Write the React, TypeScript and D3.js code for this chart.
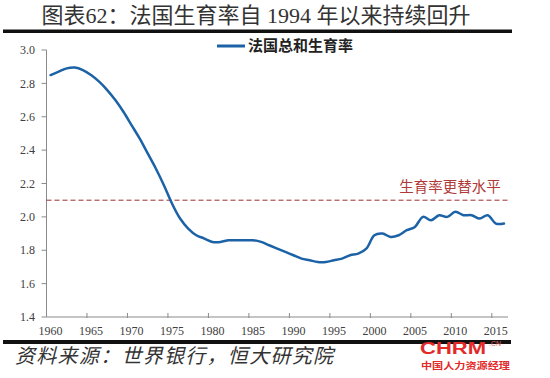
import React from "react";
import * as d3 from "d3";

const years: number[] = d3.range(1960, 2017);
const tfr: number[] = [
  2.85, 2.87, 2.89, 2.895, 2.88, 2.85, 2.81, 2.76, 2.7, 2.63,
  2.55, 2.47, 2.38, 2.29, 2.19, 2.08, 1.99, 1.93, 1.89, 1.87,
  1.85, 1.85, 1.86, 1.86, 1.86, 1.86, 1.85, 1.83, 1.81, 1.79,
  1.77, 1.75, 1.74, 1.73, 1.73, 1.74, 1.75, 1.77, 1.78, 1.81,
  1.89, 1.9, 1.88, 1.89, 1.92, 1.94, 2.0, 1.98, 2.01, 2.0,
  2.03, 2.01, 2.01, 1.99, 2.01, 1.96, 1.96,
];
const yTicks: number[] = [1.4, 1.6, 1.8, 2.0, 2.2, 2.4, 2.6, 2.8, 3.0];
const xLabelYears: number[] = [1960, 1965, 1970, 1975, 1980, 1985, 1990, 1995, 2000, 2005, 2010, 2015];
const replacementLevel = 2.1;
const title = "图表62：法国生育率自 1994 年以来持续回升";
const seriesName = "法国总和生育率";
const refLabel = "生育率更替水平";
const source = "资料来源：世界银行，恒大研究院";

const W = 550, H = 378;
const left = 46.5, right = 508, top = 50, bottom = 317;

export default function App() {
  const x = d3.scaleBand<number>().domain(years).range([left, right]).paddingInner(0).paddingOuter(0);
  const cx = (yr: number) => (x(yr) as number) + x.bandwidth() / 2;
  const y = d3.scaleLinear().domain([1.4, 3.0]).range([bottom, top]);
  const data = years.map((yr, i) => ({ yr, v: tfr[i] }));
  const line = d3.line<{ yr: number; v: number }>()
    .x(d => cx(d.yr))
    .y(d => y(d.v))
    .curve(d3.curveCatmullRom.alpha(0.5));
  const boundaryTicks = d3.range(5, years.length, 5).map(i => left + i * x.bandwidth());
  const serif = "'Liberation Serif', 'Times New Roman', 'Noto Sans CJK SC', serif";
  const cjk = "'Liberation Serif', 'Noto Sans CJK SC', sans-serif";
  return (
    <svg width={W} height={H} style={{ position: "absolute", left: 0, top: 0, background: "#fff" }}
      xmlns="http://www.w3.org/2000/svg">
      <rect x={0} y={0} width={W} height={H} fill="#fff" />
      <text x={256} y={22.5} textAnchor="middle" fontFamily={cjk} fontSize={22} fill="#333">{title}</text>
      <rect x={3} y={29.5} width={509} height={3.5} fill="#111" />

      {/* y axis */}
      <line x1={left} x2={left} y1={top} y2={bottom} stroke="#8a8a8a" strokeWidth={1} />
      {yTicks.map(t => (
        <g key={t}>
          <line x1={left - 5} x2={left} y1={y(t)} y2={y(t)} stroke="#8a8a8a" />
          <text x={35} y={y(t)} dy="0.35em" textAnchor="end" fontFamily={serif} fontSize={12} fill="#404040">{t.toFixed(1)}</text>
        </g>
      ))}
      {/* x axis */}
      <line x1={left} x2={right} y1={bottom} y2={bottom} stroke="#8a8a8a" strokeWidth={1} />
      {boundaryTicks.map((bx, i) => (
        <line key={i} x1={bx} x2={bx} y1={bottom - 4} y2={bottom + 1} stroke="#8a8a8a" />
      ))}
      {xLabelYears.map(yr => (
        <text key={yr} x={cx(yr)} y={bottom + 18} textAnchor="middle" fontFamily={serif} fontSize={12} fill="#404040">{yr}</text>
      ))}

      {/* replacement level */}
      <line x1={left} x2={510} y1={y(replacementLevel)} y2={y(replacementLevel)} stroke="#a0312f" strokeWidth={1} strokeDasharray="5,3" />
      <text x={450} y={187} dy="0.35em" textAnchor="middle" fontFamily={cjk} fontSize={14.5} fill="#b03a38">{refLabel}</text>

      {/* series */}
      <path d={line(data) || ""} fill="none" stroke="#1c62a6" strokeWidth={2.5} strokeLinejoin="round" strokeLinecap="round" />

      {/* legend */}
      <line x1={217} x2={245} y1={46} y2={46} stroke="#1c62a6" strokeWidth={3} />
      <text x={248} y={46} dy="0.35em" fontFamily={cjk} fontSize={15} fontWeight={600} fill="#222">{seriesName}</text>

      {/* bottom */}
      <rect x={3} y={340} width={508} height={4} fill="#111" />
      <text x={15} y={363} fontFamily={cjk} fontSize={20} fontStyle="italic" fill="#333" textLength={318}>{source}</text>

      {/* watermark */}
      <text x={420} y={354} fontFamily="'Liberation Sans', Arial, sans-serif" fontSize={16} fontWeight="bold" fill="#e22a2a" textLength={66} lengthAdjust="spacingAndGlyphs">CHRM</text>
      <text x={489} y={346} fontFamily="'Liberation Sans', Arial, sans-serif" fontSize={7} fill="#e06060">.CN</text>
      <text x={421} y={369} fontFamily="'Noto Sans CJK SC', sans-serif" fontSize={9} fontWeight="bold" fill="#e22a2a" textLength={89} lengthAdjust="spacingAndGlyphs">中国人力资源经理</text>
    </svg>
  );
}
